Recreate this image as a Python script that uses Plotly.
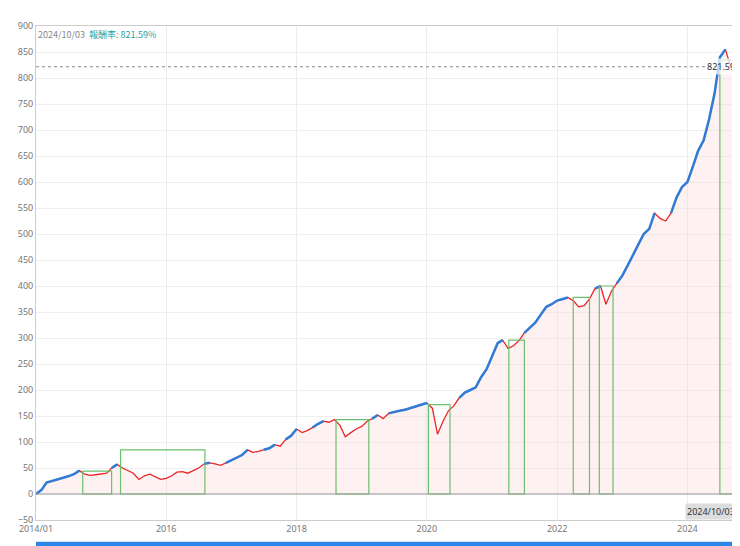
import pandas as pd
import plotly.graph_objects as go

# monthly cumulative return (%)
months = pd.date_range("2014-01-01", "2024-10-01", freq="MS")
returns = [
    0, 8, 22, 25, 28, 30, 34, 38, 45, 38, 36, 37,
    38, 40, 50, 57, 50, 45, 40, 28, 35, 38, 33, 28,
    30, 35, 42, 43, 40, 45, 50, 58, 60, 58, 55, 60,
    65, 70, 75, 85, 80, 82, 85, 88, 95, 92, 105, 112,
    125, 118, 122, 128, 135, 140, 138, 143, 132, 110, 118, 125,
    130, 140, 145, 152, 145, 155, 158, 160, 162, 165, 168, 172,
    175, 165, 115, 140, 160, 170, 185, 195, 200, 205, 225, 240,
    265, 290, 296, 280, 285, 295, 310, 320, 330, 345, 360, 365,
    372, 375, 378, 372, 360, 362, 375, 395, 400, 365, 390, 405,
    420, 440, 460, 480, 500, 510, 540, 530, 525, 540, 570, 590,
    600, 630, 660, 680, 720, 770, 840, 855, 820, 821.59,
]

# drawdown periods (start, end, peak level)
dd_start = ["2014-09-20", "2015-04-20", "2018-08-10", "2020-01-10", "2021-04-05", "2022-04-01", "2022-08-25", "2024-07-01"]
dd_end = ["2015-03-01", "2016-08-05", "2019-02-10", "2020-05-10", "2021-07-01", "2022-07-01", "2022-11-10", "2024-09-25"]
dd_top = [44, 85, 143, 172, 296, 378, 400, 835]

last_label = "2024/10/03"
last_value = 821.59

df = pd.DataFrame({"date": months, "ret": returns})
df["peak"] = df["ret"].cummax()
new_high = df["ret"] >= df["peak"]
# blue only on stretches where consecutive points are both new highs
blue = [v if (h and ((i > 0 and new_high[i - 1]) or (i + 1 < len(df) and new_high[i + 1]))) else None
        for i, (v, h) in enumerate(zip(df["ret"], new_high))]

fig = go.Figure()
fig.add_trace(go.Scatter(x=df["date"], y=df["ret"], mode="lines", line=dict(color="#e8262a", width=1.3),
                         fill="tozeroy", fillcolor="rgba(250,215,215,0.35)", showlegend=False))
fig.add_trace(go.Scatter(x=df["date"], y=blue, mode="lines", line=dict(color="#2f7bd6", width=2.5),
                         connectgaps=False, showlegend=False))

for s, e, t in zip(dd_start, dd_end, dd_top):
    fig.add_shape(type="rect", x0=s, x1=e, y0=0, y1=t, line=dict(color="#6cbf6c", width=1.2))

fig.add_hline(y=0, line=dict(color="#999", width=1))
fig.add_hline(y=last_value, line=dict(color="#888", width=1, dash="dot"))
fig.add_annotation(x=1, xref="paper", y=last_value, text=f"{last_value:.2f}", showarrow=False,
                   xanchor="right", font=dict(size=9, color="#333"), bgcolor="rgba(255,255,255,0.7)")
fig.add_annotation(x=0, xref="paper", y=1, yref="paper", xanchor="left", yanchor="top", showarrow=False,
                   text=f"<span style='color:#888'>{last_label}</span>  <span style='color:#1aa3a3'>報酬率: {last_value}%</span>",
                   font=dict(size=9, family="Noto Sans CJK TC"))
fig.add_annotation(x=1, xref="paper", y=0, yref="paper", xanchor="right", yanchor="bottom", showarrow=False,
                   text=last_label, font=dict(size=9, color="#333"), bgcolor="#ddd")

tick_dates = ["2014-01-01", "2016-01-01", "2018-01-01", "2020-01-01", "2022-01-01", "2024-01-01"]
tick_text = ["2014/01", "2016", "2018", "2020", "2022", "2024"]
fig.update_xaxes(range=["2014-01-01", "2024-10-05"], tickvals=tick_dates, ticktext=tick_text,
                 showgrid=True, gridcolor="#e8eef2", tickfont=dict(size=9, color="#777"),
                 showline=True, linecolor="#ccc", mirror=True, zeroline=False, ticklen=0)
fig.update_yaxes(range=[-50, 900], dtick=50, showgrid=True, gridcolor="#eef0f2",
                 tickfont=dict(size=9, color="#777"), showline=True, linecolor="#ccc", mirror=True, zeroline=False)
# scroll bar under the chart
fig.add_shape(type="rect", xref="paper", yref="paper", x0=0, x1=1, y0=-0.058, y1=-0.044,
              fillcolor="#2f86e8", line=dict(width=0))
fig.update_layout(width=740, height=546, margin=dict(l=25, r=10, t=18, b=34),
                  plot_bgcolor="white", paper_bgcolor="white", font=dict(family="Noto Sans"))
fig.write_html("out.html")
